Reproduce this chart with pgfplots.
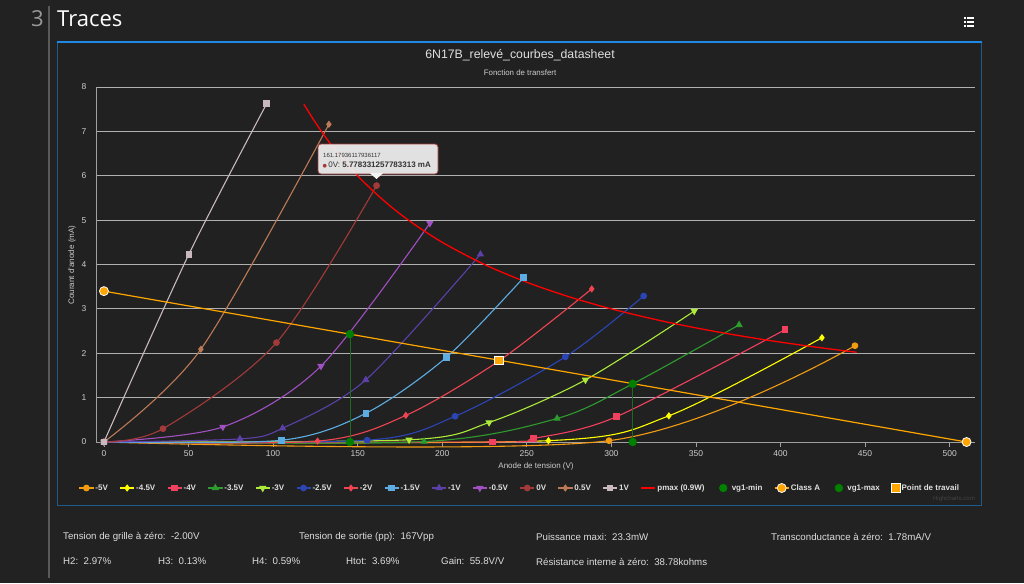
\documentclass[border=0pt]{standalone}
\usepackage{fontspec}
\setmainfont{Liberation Sans}
\newfontfamily\opensans{Open Sans}
\newfontfamily\dejavu{DejaVu Sans}
\usepackage{pgfplots}
\pgfplotsset{compat=1.18}
\pgfplotsset{
  linelegend/.style={legend image code/.code={\draw[mark repeat=2,mark phase=2,##1] plot coordinates {(0pt,0pt)(7pt,0pt)(14pt,0pt)};}},
  dotlegend/.style={legend image code/.code={\draw[mark repeat=2,mark phase=2,##1,draw=none] plot coordinates {(0pt,0pt)(7pt,0pt)(14pt,0pt)};}},
}
\definecolor{bg}{HTML}{222222}
\definecolor{panel}{HTML}{212121}
\definecolor{axisgray}{HTML}{A0A0A0}
\definecolor{gridgray}{HTML}{B0B0B0}
\definecolor{labgray}{HTML}{CCCCCC}
\definecolor{legtext}{HTML}{E0E0E0}
\definecolor{cm5}{HTML}{F39C12}
\definecolor{cm45}{HTML}{FFFF00}
\definecolor{cm4}{HTML}{F2405F}
\definecolor{cm35}{HTML}{2E9B2E}
\definecolor{cm3}{HTML}{ADEB3A}
\definecolor{cm25}{HTML}{2B45B5}
\definecolor{cm2}{HTML}{F04452}
\definecolor{cm15}{HTML}{5DADE2}
\definecolor{cm1}{HTML}{5B40A8}
\definecolor{cm05}{HTML}{A050C0}
\definecolor{c0}{HTML}{A33A3A}
\definecolor{cp05}{HTML}{BB7A55}
\definecolor{cp1}{HTML}{C9B8BE}
\definecolor{pmax}{HTML}{FF0000}
\definecolor{vgreen}{HTML}{008000}
\definecolor{vline}{HTML}{1E6A1E}
\definecolor{classA}{HTML}{FFA500}
\definecolor{panelblue}{HTML}{1E88E5}
\definecolor{paneledge}{HTML}{1F5A8A}
\definecolor{tipbg}{HTML}{F2F2F2}
\definecolor{tiptext}{HTML}{333333}
\definecolor{infotext}{HTML}{DDDDDD}
\begin{document}
\begin{tikzpicture}[x=1pt,y=1pt]
\fill[bg] (0,0) rectangle (1024,-583);
% header
\draw[color=gray!70!black, line width=1.5pt] (49,-6) -- (49,-578);
\node[anchor=base east, inner sep=0, text=gray!80, font=\opensans\fontsize{22}{24}\selectfont] at (44,-27) {3};
\node[anchor=base west, inner sep=0, text=white, font=\opensans\fontsize{22}{24}\selectfont] at (57,-27) {Traces};
% menu icon
\foreach \yy in {18,22,26} {
  \fill[white] (963.5,-\yy+1) rectangle (965.5,-\yy-1);
  \fill[white] (967,-\yy+0.8) rectangle (974,-\yy-0.8);
}
% panel
\fill[panel] (57.5,-42) rectangle (981,-505);
\draw[paneledge, line width=0.8pt] (57.5,-42) -- (57.5,-505) -- (981,-505) -- (981,-42);
\draw[panelblue, line width=2.5pt] (57,-42) -- (981.5,-42);
% titles
\node[text=legtext, font=\fontsize{12.3}{14}\selectfont] at (520,-55) {6N17B\_relevé\_courbes\_datasheet};
\node[text=labgray, font=\fontsize{7.9}{9}\selectfont] at (520,-73) {Fonction de transfert};
\begin{axis}[
  at={(96pt,-442pt)}, anchor=south west,
  scale only axis, width=879pt, height=355pt,
  xmin=-4.7, xmax=515, ymin=0, ymax=8,
  clip=false,
  axis x line*=bottom, axis y line*=left,
  axis line style={draw=axisgray, line width=1pt, -},
  xtick={0,50,...,500}, ytick={0,1,...,8},
  tick align=outside, major tick length=5pt,
  xtick style={draw=axisgray, line width=0.8pt},
  ytick style={draw=none},
  ymajorgrids, grid style={draw=gridgray, line width=0.9pt},
  ticklabel style={font=\fontsize{8.5}{10}\selectfont, text=labgray},
  /pgf/number format/assume math mode=true,
  yticklabel style={xshift=-1pt},
  xlabel={Anode de tension (V)}, ylabel={Courant d'anode (mA)},
  label style={font=\fontsize{8}{9}\selectfont, text=labgray},
  xlabel style={at={(axis description cs:0.5006,-0.0676)}, anchor=center},
  ylabel style={at={(axis description cs:-0.0273,0.4986)}, anchor=center},
  legend columns=18,
  legend style={at={(axis description cs:0.482,-0.1296)}, anchor=center, draw=none, fill=none,
    font=\bfseries\fontsize{8}{9}\selectfont, text=legtext,
    /tikz/every even column/.append style={column sep=10.2pt}, nodes={inner sep=1.5pt}},
  linelegend,
  every axis plot/.append style={line width=1.1pt},
]
\addplot[color=cm5, smooth, mark=*, mark size=2.8pt] coordinates {(0,0)(298.6,0.03)(444,2.17)};
\addlegendentry{-5V}
\addplot[color=cm45, smooth, mark=diamond*, mark size=2.8pt] coordinates {(0,0)(262.8,0.03)(334,0.59)(424.5,2.35)};
\addlegendentry{-4.5V}
\addplot[color=cm4, smooth, mark=square*, mark size=2.8pt] coordinates {(0,0)(229.6,0.0)(254.1,0.08)(303,0.57)(402.6,2.53)};
\addlegendentry{-4V}
\addplot[color=cm35, smooth, mark=triangle*, mark size=3.2pt] coordinates {(0,0)(189.3,0.01)(267.9,0.53)(312.6,1.31)(375.5,2.64)};
\addlegendentry{-3.5V}
\addplot[color=cm3, smooth, mark=triangle*, mark size=3.2pt, mark options={rotate=180}] coordinates {(0,0)(180.4,0.05)(227.7,0.44)(284.7,1.40)(349,2.95)};
\addlegendentry{-3V}
\addplot[color=cm25, smooth, mark=*, mark size=2.8pt] coordinates {(0,0)(155.6,0.04)(207.6,0.58)(272.8,1.92)(319.1,3.29)};
\addlegendentry{-2.5V}
\addplot[color=cm2, smooth, mark=diamond*, mark size=2.8pt] coordinates {(0,0)(126.3,0.02)(178.5,0.60)(233.6,1.83)(288.4,3.45)};
\addlegendentry{-2V}
\addplot[color=cm15, smooth, mark=square*, mark size=2.8pt] coordinates {(0,0)(105,0.04)(155,0.65)(202.5,1.91)(248,3.70)};
\addlegendentry{-1.5V}
\addplot[color=cm1, smooth, mark=triangle*, mark size=3.2pt] coordinates {(0,0)(80.4,0.07)(105.6,0.31)(154.8,1.40)(222.6,4.23)};
\addlegendentry{-1V}
\addplot[color=cm05, smooth, mark=triangle*, mark size=3.2pt, mark options={rotate=180}] coordinates {(0,0)(70.3,0.34)(128.3,1.71)(192.7,4.93)};
\addlegendentry{-0.5V}
\addplot[color=c0, smooth, mark=*, mark size=2.8pt] coordinates {(0,0)(34.9,0.30)(102,2.24)(161.18,5.778)};
\addlegendentry{0V}
\addplot[color=cp05, smooth, mark=diamond*, mark size=2.8pt] coordinates {(0,0)(57.3,2.09)(133,7.16)};
\addlegendentry{0.5V}
\addplot[color=cp1, smooth, mark=square*, mark size=2.8pt] coordinates {(0,0)(50.2,4.23)(96.3,7.63)};
\addlegendentry{1V}
\addplot[color=pmax, smooth, no marks, line width=1.3pt] coordinates {(118.2,7.614)(125,7.2)(135,6.667)(150,6.0)(165,5.455)(180,5.0)(200,4.5)(225,4.0)(250,3.6)(275,3.273)(300,3.0)(330,2.727)(360,2.5)(390,2.308)(420,2.143)(445,2.022)};
\addlegendentry{pmax (0.9W)}
\addplot[color=vline, line width=0.7pt, mark=*, mark size=3.8pt, mark options={fill=vgreen, draw=vgreen}, dotlegend] coordinates {(145.4,0)(145.4,2.43)};
\addlegendentry{vg1-min}
\addplot[color=classA, line width=1.2pt, mark=*, mark size=4.5pt, mark options={fill=classA, draw=white, line width=0.8pt}] coordinates {(0,3.40)(510,0)};
\addlegendentry{Class A}
\addplot[color=vline, line width=0.7pt, mark=*, mark size=3.8pt, mark options={fill=vgreen, draw=vgreen}, dotlegend] coordinates {(312.6,0)(312.6,1.31)};
\addlegendentry{vg1-max}
\addplot[only marks, mark=square*, mark size=4.3pt, mark options={fill=classA, draw=white, line width=0.8pt}] coordinates {(233.6,1.84)};
\addlegendentry{Point de travail}
\end{axis}
% tooltip
\draw[fill=tipbg, fill opacity=0.92, draw=c0, rounded corners=3pt, line width=0.8pt] (318,-144) rectangle (438,-174);
\fill[tipbg] (370,-173.2) -- (376.5,-179) -- (383,-173.2) -- cycle;
\node[anchor=west, inner sep=0, text=tiptext, font=\fontsize{6}{7}\selectfont] at (323,-155.5) {161.17936117936117};
\node[anchor=west, inner sep=0, text=tiptext, font=\fontsize{8}{9}\selectfont] at (322.5,-165) {{\dejavu\fontsize{5}{5}\selectfont\textcolor{c0}{●}}\,0V:\ \textbf{5.778331257783313 mA}};
\node[anchor=east, inner sep=0, text=gray!35!bg, font=\fontsize{6}{7}\selectfont] at (975,-499) {Highcharts.com};
% info text
\begin{scope}[every node/.style={anchor=west, inner sep=0, text=infotext, font=\fontsize{9.7}{11}\selectfont}]
\node at (63,-537) {Tension de grille à zéro:~~-2.00V};
\node at (299,-537) {Tension de sortie (pp):~~167Vpp};
\node at (536,-537) {Puissance maxi:~~23.3mW};
\node at (771,-537) {Transconductance à zéro:~~1.78mA/V};
\node at (63,-561.5) {H2:~~2.97\%};
\node at (158,-561.5) {H3:~~0.13\%};
\node at (252,-561.5) {H4:~~0.59\%};
\node at (346,-561.5) {Htot:~~3.69\%};
\node at (441,-561.5) {Gain:~~55.8V/V};
\node at (536,-561.5) {Résistance interne à zéro:~~38.78kohms};
\end{scope}
\pgfresetboundingbox
\path[use as bounding box] (0,0) rectangle (1024,-583);
\end{tikzpicture}
\end{document}
